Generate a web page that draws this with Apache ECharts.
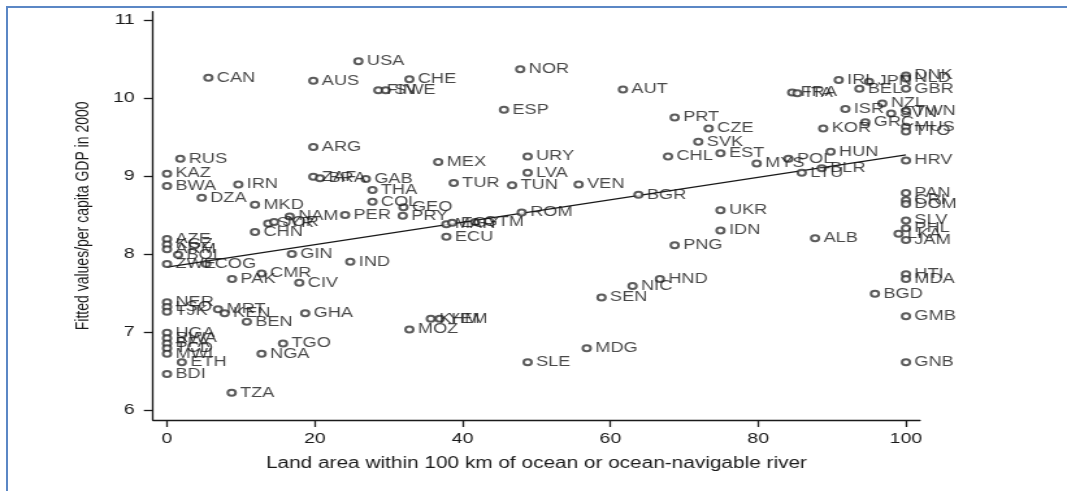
<!DOCTYPE html>
<html>
<head>
<meta charset="utf-8">
<script src="https://cdn.jsdelivr.net/npm/echarts@6/dist/echarts.min.js"></script>
<style>
  html, body { margin: 0; padding: 0; background: #fff; overflow: hidden; }
  #chart {
    position: absolute; left: 0; top: 0;
    width: 821px; height: 491px;
    transform: scaleX(1.2996); transform-origin: 0 0;
  }
  #frame {
    position: absolute; left: 6px; top: 6px; width: 1061px; height: 485px;
    border-left: 2px solid #5b87c5; border-top: 2px solid #5b87c5;
    pointer-events: none;
  }
</style>
</head>
<body>
<div id="chart"></div>
<div id="frame"></div>
<script>
// Country codes, share of land within 100 km of the coast (%), log GDP per capita 2000
const codes = [
  'CAN','AUS','USA','CHE','FIN','SWE','NOR','AUT','ESP','PRT',
  'CZE','SVK','EST','CHL','MYS','POL','LTU','BLR','HUN','KOR',
  'GRC','ISR','NZL','SVN','TWN','MUS','TTO','HRV','IRL','JPN',
  'DNK','NLD','BEL','GBR','FRA','ITA','PAN','CRI','DOM','SLV',
  'PHL','LKA','JAM','HTI','MDA','BGD','GMB','GNB','ALB','UKR',
  'IDN','PNG','HND','NIC','SEN','MDG','SLE','KHM','YEM','MOZ',
  'BGR','ROM','VEN','TUN','LVA','URY','TUR','MEX','MAR','EGY',
  'GTM','ECU','GEO','PRY','COL','THA','GAB','ZAF','BRA','ARG',
  'PER','NAM','SYR','JOR','CHN','MKD','IRN','DZA','RUS','KAZ',
  'BWA','AZE','KGZ','ARM','BOL','ZWE','COG','PAK','CMR','CIV',
  'GIN','IND','NER','LSO','TJK','MRT','KEN','BEN','GHA','TGO',
  'NGA','UGA','RWA','BFA','TCD','MWI','ETH','BDI','TZA'
];
const landNearCoast = [
  5.6, 19.8, 25.9, 32.8, 28.6, 29.6, 47.8, 61.7, 45.6, 68.7,
  73.3, 71.9, 74.9, 67.8, 79.8, 84.1, 85.9, 88.6, 89.8, 88.8,
  94.5, 91.8, 96.8, 98.0, 100, 100, 100, 100, 90.9, 95.0,
  100, 100, 93.7, 100, 84.6, 85.3, 100, 100, 100, 100,
  100, 99.0, 100, 100, 100, 95.8, 100, 100, 87.7, 74.9,
  74.9, 68.7, 66.7, 63.0, 58.8, 56.8, 48.8, 35.7, 36.9, 32.8,
  63.8, 48.0, 55.7, 46.7, 48.8, 48.8, 38.8, 36.7, 37.8, 38.6,
  41.7, 37.8, 32.0, 31.9, 27.8, 27.8, 26.9, 19.8, 20.7, 19.8,
  24.1, 16.6, 13.7, 14.5, 11.9, 11.9, 9.65, 4.7, 1.8, 0,
  0, 0, 0, 0, 1.5, 0, 5.3, 8.8, 12.8, 17.9,
  16.9, 24.8, 0, 0, 0, 6.9, 7.8, 10.8, 18.7, 15.7,
  12.8, 0, 0, 0, 0, 0, 2.0, 0, 8.75
];
const logGdp2000 = [
  10.26, 10.22, 10.47, 10.24, 10.10, 10.10, 10.37, 10.11, 9.85, 9.75,
  9.61, 9.44, 9.29, 9.25, 9.16, 9.22, 9.04, 9.10, 9.31, 9.61,
  9.69, 9.86, 9.93, 9.80, 9.83, 9.63, 9.57, 9.20, 10.23, 10.21,
  10.29, 10.25, 10.12, 10.12, 10.07, 10.06, 8.78, 8.69, 8.64, 8.43,
  8.33, 8.26, 8.18, 7.74, 7.68, 7.49, 7.20, 6.61, 8.20, 8.56,
  8.30, 8.11, 7.68, 7.59, 7.44, 6.79, 6.61, 7.17, 7.17, 7.03,
  8.76, 8.53, 8.89, 8.88, 9.04, 9.25, 8.91, 9.18, 8.38, 8.40,
  8.41, 8.22, 8.60, 8.49, 8.67, 8.82, 8.96, 8.99, 8.97, 9.37,
  8.50, 8.48, 8.39, 8.41, 8.28, 8.63, 8.89, 8.72, 9.22, 9.03,
  8.87, 8.19, 8.12, 8.06, 7.99, 7.87, 7.87, 7.68, 7.75, 7.63,
  8.00, 7.90, 7.38, 7.32, 7.26, 7.29, 7.24, 7.13, 7.24, 6.85,
  6.72, 6.99, 6.92, 6.85, 6.79, 6.72, 6.61, 6.46, 6.22
];
// Fitted regression line, evaluated at both ends of the land-share range
const fitX = [0, 100];
const fitY = [7.83, 9.27];
const xTicks = [0, 20, 40, 60, 80, 100];
const yTicks = [6, 7, 8, 9, 10, 11];

const points = codes.map((c, i) => ({ name: c, value: [landNearCoast[i], logGdp2000[i]] }));
const fitLine = fitX.map((x, i) => [x, fitY[i]]);

const font = '"Liberation Sans", Arial, sans-serif';
const ink = '#1a1a1a';

const chart = echarts.init(document.getElementById('chart'), null, { renderer: 'canvas' });
chart.setOption({
  animation: false,
  backgroundColor: '#fff',
  grid: { left: 117.7, right: 113.1, top: 11.7, bottom: 71 },
  xAxis: {
    type: 'value', min: -1.9, max: 101.9,
    name: 'Land area within 100 km of ocean or ocean-navigable river',
    nameLocation: 'middle', nameGap: 36,
    nameTextStyle: { fontFamily: font, fontSize: 16, color: ink },
    axisLine: { show: true, onZero: false, lineStyle: { color: ink, width: 1.3 } },
    axisTick: { show: true, customValues: xTicks, length: 7, lineStyle: { color: ink, width: 1.3 } },
    axisLabel: { customValues: xTicks, margin: 11, fontFamily: font, fontSize: 15, color: ink },
    splitLine: { show: false }
  },
  yAxis: {
    type: 'value', min: 5.87, max: 11.107,
    name: 'Fitted values/per capita GDP in 2000',
    nameLocation: 'middle', nameGap: 47,
    nameTextStyle: { fontFamily: font, fontSize: 14, color: ink },
    axisLine: { show: true, onZero: false, lineStyle: { color: ink, width: 1.3 } },
    axisTick: { show: true, customValues: yTicks, length: 7, lineStyle: { color: ink, width: 1.3 } },
    axisLabel: { customValues: yTicks, margin: 14, fontFamily: font, fontSize: 15, color: ink },
    splitLine: { show: false }
  },
  series: [
    {
      type: 'line',
      data: fitLine,
      showSymbol: false,
      lineStyle: { color: '#1a1a1a', width: 1.2 },
      z: 1
    },
    {
      type: 'scatter',
      data: points,
      symbol: 'emptyCircle',
      symbolSize: 6,
      itemStyle: { color: '#333', borderWidth: 1.3 },
      label: {
        show: true, position: 'right', distance: 2.5,
        formatter: p => p.name,
        fontFamily: font, fontSize: 14, color: ink
      },
      emphasis: { disabled: true },
      z: 2
    }
  ]
});
</script>
</body>
</html>
